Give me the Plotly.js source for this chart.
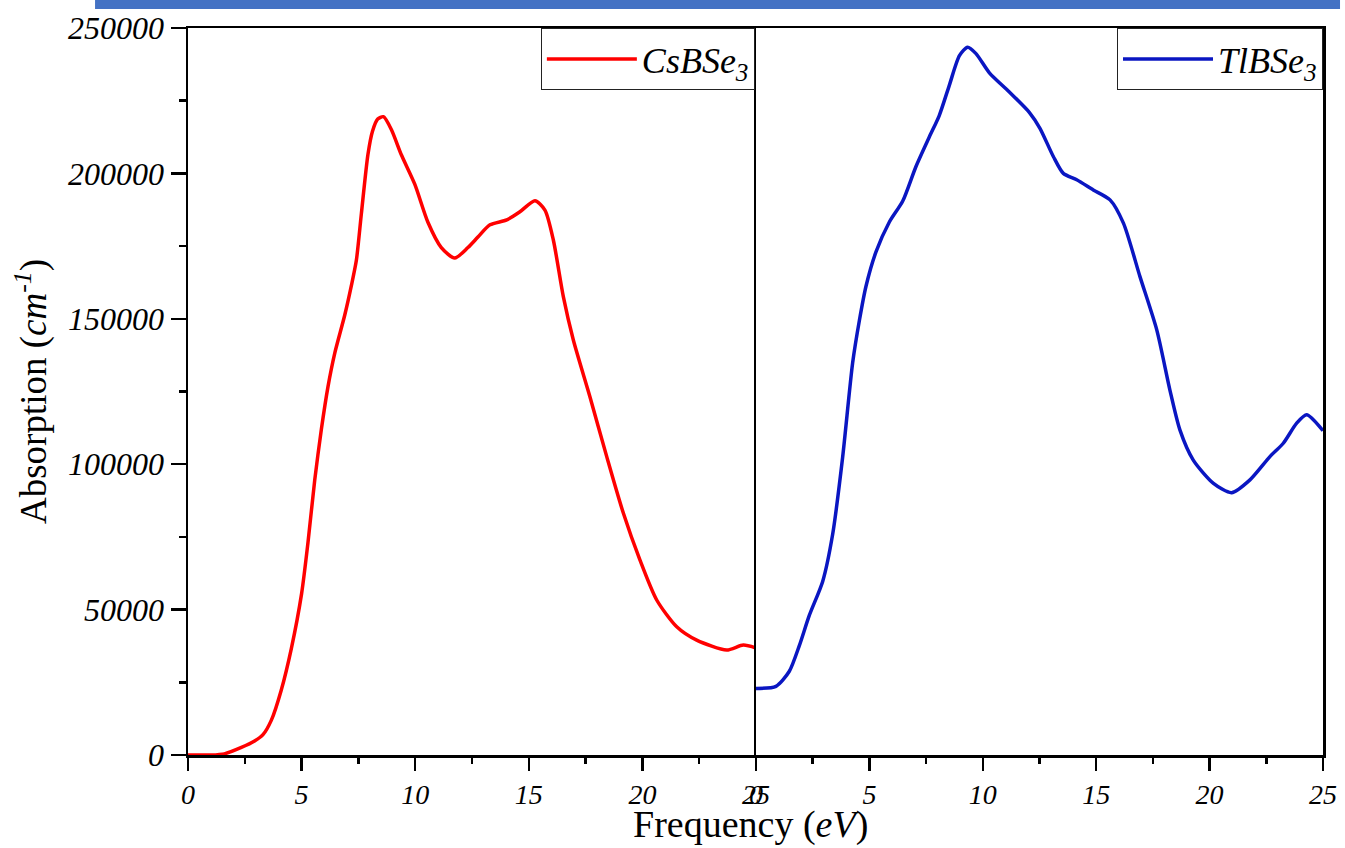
<!DOCTYPE html>
<html>
<head>
<meta charset="utf-8">
<script src="https://cdn.plot.ly/plotly-3.0.1.min.js"></script>
<style>
html,body{margin:0;padding:0;background:#fff;}
#chart{width:1345px;height:848px;}
</style>
</head>
<body>
<div id="chart"></div>
<script>
// CsBSe3 absorption (left panel)
const csFreq = [0, 1, 1.6, 2.35, 2.93, 3.3, 3.67, 4.1, 4.55, 5.0, 5.28, 5.58, 5.87, 6.16, 6.46, 6.9, 7.19, 7.41, 7.63, 7.92, 8.12, 8.35, 8.6, 8.95, 9.39, 9.98, 10.56, 11.15, 11.74, 12.32, 12.76, 13.29, 14.03, 14.61, 15.27, 15.71, 16.08, 16.52, 16.96, 17.69, 18.43, 19.16, 19.89, 20.63, 21.51, 22.39, 23.71, 24.44, 25];
const csAbs  = [0, 0, 400, 2600, 4800, 7000, 12000, 22200, 36700, 55500, 73000, 94700, 112000, 126600, 138200, 151300, 161400, 170100, 186100, 206500, 214500, 218700, 219500, 215100, 206400, 196300, 183200, 174500, 170900, 174500, 178100, 182300, 184000, 186800, 190600, 187400, 177100, 157600, 142700, 123200, 102600, 83200, 67100, 53300, 44100, 39500, 36100, 37800, 36800];

// TlBSe3 absorption (right panel)
const tlFreq = [0, 0.88, 1.47, 1.91, 2.35, 2.94, 3.38, 3.82, 4.26, 4.56, 4.85, 5.29, 5.88, 6.47, 7.05, 7.64, 8.08, 8.52, 8.97, 9.33, 9.7, 10.29, 11.17, 12.05, 12.52, 13.11, 13.55, 14.14, 14.87, 15.61, 16.2, 16.93, 17.67, 18.25, 18.69, 19.28, 20.17, 20.97, 21.78, 22.66, 23.25, 23.84, 24.28, 25];
const tlAbs  = [22900, 23600, 28800, 37600, 48000, 59700, 75900, 102400, 134800, 149500, 161200, 173000, 183300, 190500, 202300, 212500, 219900, 230200, 240500, 243400, 241200, 234600, 228000, 221000, 215500, 205800, 200000, 197800, 194300, 190900, 182900, 164500, 146200, 125500, 111800, 101400, 93400, 90200, 94600, 102600, 107200, 114100, 117000, 111500];

const seriesNames = ['<i>CsBSe<sub>3</sub></i>', '<i>TlBSe<sub>3</sub></i>'];
const xTitle = 'Frequency (<i>eV</i>)';
const yTitle = 'Absorption (<i>cm<sup>-1</sup></i>)';

const serif = 'Liberation Serif, Times New Roman, serif';

const traces = [
  {x: csFreq, y: csAbs, name: seriesNames[0], type: 'scatter', mode: 'lines',
   line: {color: '#ff0000', width: 3.5, shape: 'spline', smoothing: 0.7},
   xaxis: 'x', yaxis: 'y', legend: 'legend'},
  {x: tlFreq, y: tlAbs, name: seriesNames[1], type: 'scatter', mode: 'lines',
   line: {color: '#0a16c2', width: 3.5, shape: 'spline', smoothing: 0.7},
   xaxis: 'x2', yaxis: 'y2', legend: 'legend2'}
];

const split = 568 / 1135;

function xAxis(domain, anchor) {
  return {
    domain: domain, anchor: anchor, range: [0, 25], dtick: 5, tick0: 0,
    ticks: 'outside', ticklen: 13, tickwidth: 2.5, tickcolor: '#000',
    showline: true, linewidth: 2.5, linecolor: '#000', mirror: true,
    showgrid: false, zeroline: false,
    minor: {dtick: 2.5, ticks: 'outside', ticklen: 6, tickwidth: 2.5, tickcolor: '#000', showgrid: false},
    tickfont: {family: serif, size: 28, style: 'italic', color: '#000'}
  };
}

const legendBase = {
  y: 1, yanchor: 'top', xanchor: 'right',
  bgcolor: '#fff', bordercolor: '#222', borderwidth: 1,
  font: {family: serif, size: 36, color: '#000'},
  itemwidth: 90, tracegroupgap: 0
};

const layout = {
  width: 1345, height: 848,
  margin: {l: 188, r: 22, t: 28, b: 93},
  paper_bgcolor: '#fff', plot_bgcolor: '#fff',
  showlegend: true,
  xaxis: xAxis([0, split], 'y'),
  xaxis2: xAxis([split, 1], 'y2'),
  yaxis: {
    range: [0, 250000], dtick: 50000, tick0: 0, tickformat: 'd',
    ticks: 'outside', ticklen: 15, tickwidth: 2.5, tickcolor: '#000',
    showline: true, linewidth: 2.5, linecolor: '#000', mirror: false,
    showgrid: false, zeroline: false,
    minor: {dtick: 25000, ticks: 'outside', ticklen: 7, tickwidth: 2.5, tickcolor: '#000', showgrid: false},
    tickfont: {family: serif, size: 32, style: 'italic', color: '#000'},
    title: {text: yTitle, font: {family: serif, size: 37, color: '#000'}, standoff: 10}
  },
  yaxis2: {
    anchor: 'x2', range: [0, 250000], matches: 'y', side: 'left',
    showticklabels: false, ticks: '',
    showline: true, linewidth: 2.5, linecolor: '#000', mirror: true,
    showgrid: false, zeroline: false
  },
  legend: Object.assign({x: split - 0.001}, legendBase),
  legend2: Object.assign({x: 1}, legendBase),
  annotations: [
    {text: xTitle, xref: 'paper', yref: 'paper', x: 0.496, y: -0.128,
     xanchor: 'center', yanchor: 'bottom', showarrow: false,
     font: {family: serif, size: 38, color: '#000'}}
  ],
  shapes: [
    {type: 'rect', xref: 'paper', yref: 'paper',
     x0: -0.0819, x1: 1.015, y0: 1.0261, y1: 1.0399,
     fillcolor: '#4472c4', line: {width: 0}, layer: 'above'}
  ]
};

Plotly.newPlot('chart', traces, layout, {displayModeBar: false, staticPlot: true});
</script>
</body>
</html>
